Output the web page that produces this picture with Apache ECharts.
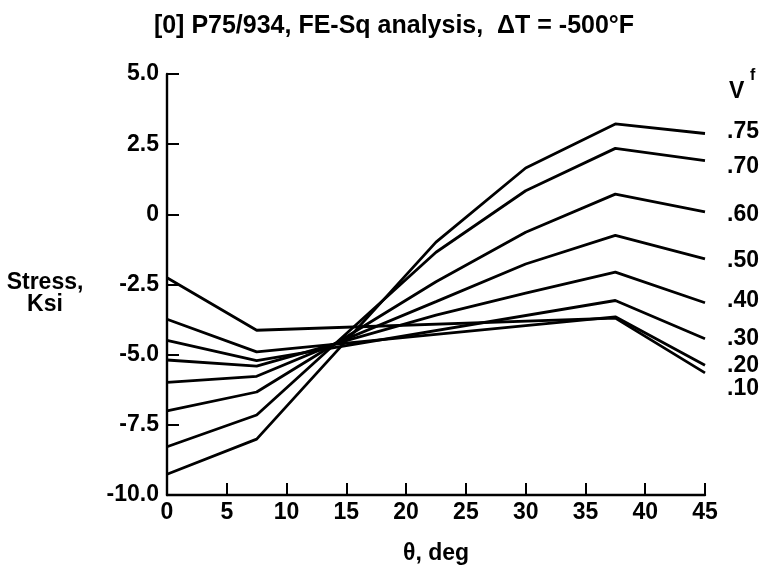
<!DOCTYPE html>
<html>
<head>
<meta charset="utf-8">
<script src="https://cdn.jsdelivr.net/npm/echarts@6/dist/echarts.min.js"></script>
<style>
  html, body { margin: 0; padding: 0; background: #fff; }
  #chart { width: 767px; height: 570px; }
</style>
</head>
<body>
<div id="chart"></div>
<script>
// Ply angle stations (deg) where each curve has a vertex
const thetaShort = [0, 7.5, 37.5, 45];
const thetaFull = [0, 7.5, 22.5, 30, 37.5, 45];

// Fiber volume fraction labels
const vfLabels = ['.10', '.20', '.30', '.40', '.50', '.60', '.70', '.75'];

// Stress (Ksi) for each fiber volume fraction
const stressVf10 = [-2.26, -4.13, -3.70, -5.65];
const stressVf20 = [-3.74, -4.90, -3.65, -5.38];
const stressVf30 = [-4.49, -5.21, -3.07, -4.43];
const stressVf40 = [-5.19, -5.41, -3.59, -2.81, -2.06, -3.15];
const stressVf50 = [-5.99, -5.77, -3.11, -1.77, -0.75, -1.59];
const stressVf60 = [-7.00, -6.33, -2.40, -0.64, 0.72, 0.09];
const stressVf70 = [-8.28, -7.15, -1.35, 0.84, 2.35, 1.91];
const stressVf75 = [-9.26, -8.01, -0.99, 1.65, 3.22, 2.88];

const curves = [
  { label: vfLabels[0], theta: thetaShort, stress: stressVf10, dy: 16 },
  { label: vfLabels[1], theta: thetaShort, stress: stressVf20, dy: 0 },
  { label: vfLabels[2], theta: thetaShort, stress: stressVf30, dy: 0 },
  { label: vfLabels[3], theta: thetaFull, stress: stressVf40, dy: -2 },
  { label: vfLabels[4], theta: thetaFull, stress: stressVf50, dy: 2 },
  { label: vfLabels[5], theta: thetaFull, stress: stressVf60, dy: 3 },
  { label: vfLabels[6], theta: thetaFull, stress: stressVf70, dy: 6 },
  { label: vfLabels[7], theta: thetaFull, stress: stressVf75, dy: -2 }
];

const FONT = '"Liberation Sans", Arial, Helvetica, sans-serif';

const series = curves.map(c => ({
  type: 'line',
  name: c.label,
  data: c.theta.map((t, i) => [t, c.stress[i]]),
  showSymbol: false,
  silent: true,
  animation: false,
  lineStyle: { color: '#000', width: 2.8 },
  endLabel: {
    show: true,
    formatter: c.label,
    color: '#000',
    fontFamily: FONT,
    fontWeight: 'bold',
    fontSize: 23,
    distance: 22,
    offset: [0, c.dy]
  }
}));

const chart = echarts.init(document.getElementById('chart'), null, { renderer: 'canvas' });
chart.setOption({
  backgroundColor: '#fff',
  animation: false,
  title: {
    text: '[0] P75/934, FE-Sq analysis,  ΔT = -500°F',
    left: 389,
    textAlign: 'center',
    top: 9,
    textStyle: { fontFamily: FONT, fontWeight: 'bold', fontSize: 25, color: '#000' }
  },
  grid: { left: 167, right: 62, top: 74, bottom: 64, containLabel: false },
  xAxis: {
    type: 'value',
    min: 0, max: 45, interval: 5,
    name: 'θ, deg',
    nameLocation: 'middle',
    nameGap: 47,
    nameTextStyle: { fontFamily: FONT, fontWeight: 'bold', fontSize: 23, color: '#000' },
    axisLine: { show: true, onZero: false, lineStyle: { color: '#000', width: 2.4 } },
    axisTick: { show: true, inside: true, length: 12, lineStyle: { color: '#000', width: 2 } },
    axisLabel: { fontFamily: FONT, fontWeight: 'bold', fontSize: 23, color: '#000', margin: 6 },
    splitLine: { show: false }
  },
  yAxis: {
    type: 'value',
    min: -10, max: 5, interval: 2.5,
    axisLine: { show: true, onZero: false, lineStyle: { color: '#000', width: 2.4 } },
    axisTick: { show: true, inside: true, length: 12, lineStyle: { color: '#000', width: 2 } },
    axisLabel: {
      fontFamily: FONT, fontWeight: 'bold', fontSize: 23, color: '#000', margin: 8,
      formatter: v => (v === 0 ? '0' : v.toFixed(1))
    },
    splitLine: { show: false }
  },
  graphic: [
    {
      type: 'text',
      x: 45, y: 272,
      style: {
        text: 'Stress,\nKsi',
        fill: '#000',
        font: 'bold 23px ' + FONT,
        lineHeight: 22,
        align: 'center'
      }
    },
    {
      type: 'text',
      x: 729, y: 80,
      style: {
        text: 'V',
        fill: '#000',
        font: 'bold 23px ' + FONT
      }
    },
    {
      type: 'text',
      x: 750, y: 68,
      style: {
        text: 'f',
        fill: '#000',
        font: 'bold 16px ' + FONT
      }
    }
  ],
  series: series
});
</script>
</body>
</html>
